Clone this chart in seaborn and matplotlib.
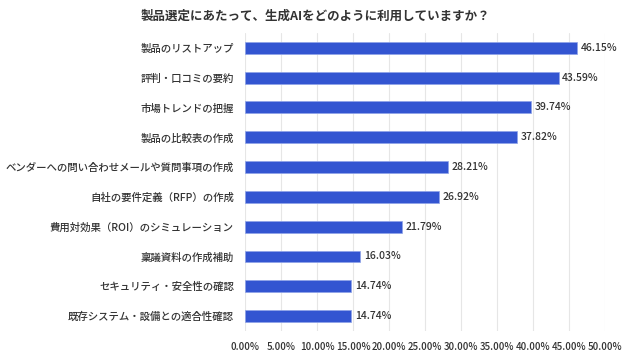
import matplotlib
matplotlib.use("Agg")
import matplotlib.pyplot as plt
import seaborn as sns
import pandas as pd

categories = [
    "製品のリストアップ",
    "評判・口コミの要約",
    "市場トレンドの把握",
    "製品の比較表の作成",
    "ベンダーへの問い合わせメールや質問事項の作成",
    "自社の要件定義（RFP）の作成",
    "費用対効果（ROI）のシミュレーション",
    "稟議資料の作成補助",
    "セキュリティ・安全性の確認",
    "既存システム・設備との適合性確認",
]
values = [46.15, 43.59, 39.74, 37.82, 28.21, 26.92, 21.79, 16.03, 14.74, 14.74]
xticks = [0, 5, 10, 15, 20, 25, 30, 35, 40, 45, 50]

sns.set_style("white")
plt.rcParams["font.family"] = ["Noto Sans CJK JP", "DejaVu Sans"]

df = pd.DataFrame({"item": categories, "pct": values})

fig = plt.figure(figsize=(6.3, 3.54), dpi=100)
ax = fig.add_axes([0.389, 0.065, 0.571, 0.842])

sns.barplot(data=df, x="pct", y="item", color="#3355d1", width=0.4,
            saturation=1, edgecolor="#8fa3e8", linewidth=0.5, ax=ax, zorder=3)

for i, v in enumerate(values):
    ax.text(v + 0.5, i, f"{v:.2f}%", va="center", ha="left",
            fontsize=7.5, fontweight="medium", color="#333333")

ax.set_xlim(0, 50)
ax.set_xticks(xticks)
ax.set_xticklabels([f"{t:.2f}%" for t in xticks], fontsize=7,
                   fontweight="medium", color="#333333")
ax.tick_params(axis="y", labelsize=7.5, colors="#333333", length=0, pad=8)
for lbl in ax.get_yticklabels():
    lbl.set_fontweight("medium")
ax.tick_params(axis="x", length=0, pad=8)
ax.grid(axis="x", color="#e6e6e6", linewidth=0.8, zorder=0)
ax.set_xlabel("")
ax.set_ylabel("")
sns.despine(ax=ax, left=True, bottom=True)

fig.text(0.5, 0.955, "製品選定にあたって、生成AIをどのように利用していますか？",
         ha="center", va="center", fontsize=9, fontweight="bold", color="#333333")

fig.savefig("out.png", dpi=100)
